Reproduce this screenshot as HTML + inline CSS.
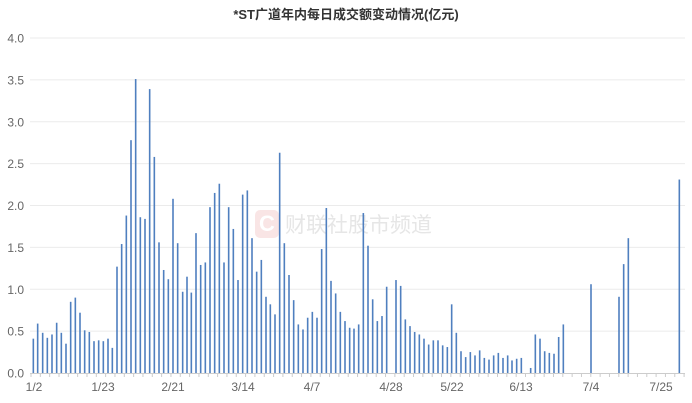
<!DOCTYPE html>
<html><head><meta charset="utf-8"><style>
body{margin:0;background:#fff;}
svg{display:block;font-family:"Liberation Sans","Noto Sans CJK SC",sans-serif;}
</style></head><body>
<svg id="s" width="692" height="403" xmlns="http://www.w3.org/2000/svg">
<rect width="692" height="403" fill="#fff"/>
<text x="346" y="19" text-anchor="middle" font-size="13" font-weight="bold" fill="#333">*ST广道年内每日成交额变动情况(亿元)</text>
<g id="grid"></g>
<rect x="255" y="210" width="24" height="28" rx="5" fill="#f8dede" opacity="0.8"/>
<text x="267" y="231" text-anchor="middle" font-size="22" font-weight="bold" fill="#fff">C</text>
<text x="285" y="232" font-size="21" fill="#e6e6e6">财联社股市频道</text>
<g id="bars"></g>
<g id="ax"></g>
</svg>
<script>
var NS="http://www.w3.org/2000/svg";
function el(p,t,a,txt){var e=document.createElementNS(NS,t);for(var k in a)e.setAttribute(k,a[k]);if(txt)e.textContent=txt;document.getElementById(p).appendChild(e);}
var y0=373,sc=(373-38)/4;
for(var i=0;i<=8;i++){var v=i*0.5,y=y0-v*sc;
 if(i>0)el("grid","line",{x1:30,x2:685,y1:y,y2:y,stroke:"#ebebeb","stroke-width":1});
 el("grid","text",{x:24,y:y+4.5,"text-anchor":"end","font-size":"12",fill:"#666"},v.toFixed(1));}
var L=[[100,.41],[113,.59],[128,.48],[142,.42],[156,.46],[170,.60],[184,.48],[198,.35],[212,.85],[226,.90],[240,.72],[254,.51],[268,.49],[282,.38],[296,.39],[310,.38],[324,.41],[337,.30],[351,1.27],[365,1.54],[379,1.88],[393,2.78],[407,3.51],[421,1.86],[435,1.84],[449,3.39],[463,2.58],[477,1.56],[491,1.23],[505,1.12],[519,2.08],[533,1.55],[548,.97],[561,1.15],[574,.96],[588,1.67],[602,1.29],[616,1.32],[630,1.98],[644,2.15],[658,2.26],[672,1.32],[686,1.98],[700,1.72],[714,1.11],[728,2.13],[742,2.18],[756,1.61],[770,1.21],[784,1.35],[798,.91],[811,.82],[825,.70],[839,2.63],[853,1.55],[867,1.17],[881,.87],[895,.58],[909,.52],[923,.66],[937,.73],[951,.66],[965,1.48],[979,1.97],[993,1.10],[1007,.95],[1021,.73],[1035,.62],[1049,.54]];
var R=[[42,.53],[56,.58],[70,1.91],[84,1.52],[98,.88],[112,.62],[126,.68],[140,1.03],[168,1.11],[182,1.04],[196,.64],[210,.56],[224,.49],[238,.46],[252,.41],[266,.34],[280,.39],[294,.39],[308,.33],[322,.31],[335,.82],[349,.48],[363,.26],[377,.19],[391,.25],[405,.21],[419,.27],[433,.18],[447,.16],[461,.21],[475,.24],[489,.18],[503,.21],[516,.15],[530,.17],[544,.18],[572,.06],[586,.46],[600,.41],[614,.26],[628,.24],[642,.23],[656,.43],[670,.58],[753,1.06],[837,.91],[851,1.30],[865,1.61],[1018,2.31]];
function bar(x,v){var h=v*sc;el("bars","rect",{x:x-0.8,y:y0-h,width:1.6,height:h,fill:"#4f7fbf"});}
L.forEach(function(b){bar(b[0]/3,b[1]);});
R.forEach(function(b){bar(340+b[0]/3,b[1]);});
el("ax","line",{x1:30,x2:685,y1:373.5,y2:373.5,stroke:"#ccc","stroke-width":1});
for(var x=31;x<=686;x+=9.33)el("ax","line",{x1:x,x2:x,y1:374,y2:377,stroke:"#ccc","stroke-width":1});
var labs=[["1/2",34],["1/23",103],["2/21",173],["3/14",243],["4/7",312],["4/28",391],["5/22",452],["6/13",521],["7/4",591],["7/25",661]];
labs.forEach(function(l){el("ax","text",{x:l[1],y:391,"text-anchor":"middle","font-size":"12",fill:"#666"},l[0]);});
</script>
</body></html>
